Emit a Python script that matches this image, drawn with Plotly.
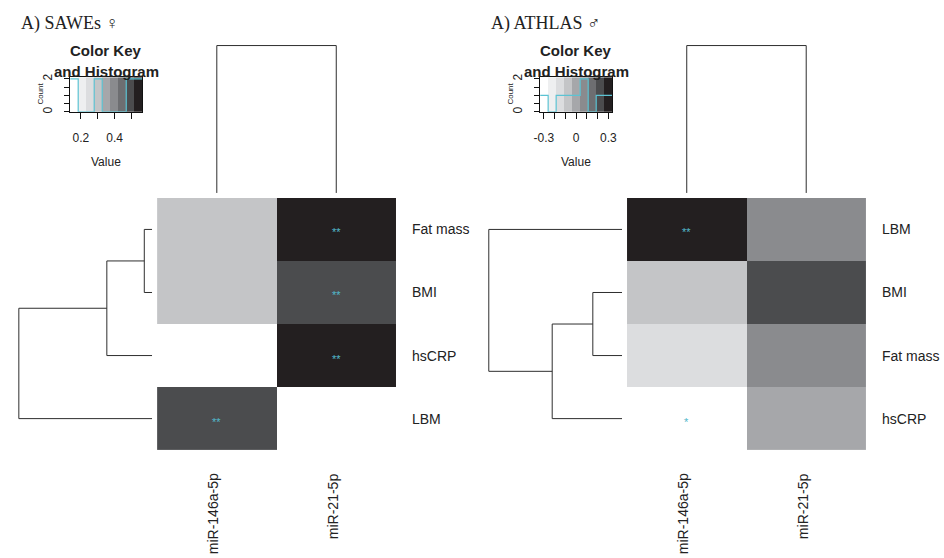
import numpy as np
import plotly.graph_objects as go

W, H = 944, 558

# ---------------- data ----------------
mirnas = ["miR-146a-5p", "miR-21-5p"]

# SAWEs (women): correlation of miRNA with body composition / inflammation
sawes_title = "A) SAWEs \u2640"
sawes_rows = ["Fat mass", "BMI", "hsCRP", "LBM"]
sawes_r = [[0.30, 0.563],
           [0.31, 0.49],
           [0.14, 0.54],
           [0.50, 0.137]]
sawes_sig = [["", "**"],
             ["", "**"],
             ["", "**"],
             ["**", ""]]
# row dendrogram merges: (child a, child b, height); leaves 0..3, new nodes 4, 5, 6
sawes_row_merges = [(0, 1, 0.09), (4, 2, 0.52), (5, 3, 1.53)]
sawes_col_height = 1.0
sawes_key_ticks = [0.2, 0.3, 0.4, 0.5]
sawes_key_labels = ["0.2", "", "0.4", ""]

# ATHLAS (men)
athlas_title = "A) ATHLAS \u2642"
athlas_rows = ["LBM", "BMI", "Fat mass", "hsCRP"]
athlas_r = [[0.335, 0.07],
            [-0.08, 0.22],
            [-0.15, 0.09],
            [-0.29, 0.00]]
athlas_sig = [["**", ""],
              ["", ""],
              ["", ""],
              ["*", ""]]
athlas_row_merges = [(1, 2, 0.18), (4, 3, 0.43), (0, 5, 0.82)]
athlas_col_height = 1.0
athlas_key_ticks = [-0.3, -0.2, -0.1, 0.0, 0.1, 0.2, 0.3]
athlas_key_labels = ["-0.3", "", "", "0", "", "", "0.3"]

greys = ["#FFFFFF", "#EEEFF0", "#DCDDDF", "#C4C5C7", "#A6A7AA",
         "#8A8B8E", "#6D6E71", "#4B4C4E", "#231F20"]

STAR_COL = "#52B8CB"
HIST_COL = "#5CC3D3"
LINE_COL = "#2e2e2e"
SANS = "Liberation Sans, Arial, sans-serif"
SERIF = "Liberation Serif, Times New Roman, serif"

stepped = []
nc = len(greys)
for i, c in enumerate(greys):
    stepped.append([i / nc, c])
    stepped.append([(i + 1) / nc, c])

fig = go.Figure()
annotations = []
axis_counter = [0]


def new_axes(x0, x1, y0, y1, xr, yr):
    """Create an x/y axis pair whose domain is given in pixels."""
    axis_counter[0] += 1
    n = axis_counter[0]
    sx = "" if n == 1 else str(n)
    fig.update_layout(**{
        "xaxis" + sx: dict(domain=[x0 / W, x1 / W], range=xr, anchor="y" + sx,
                           visible=False, fixedrange=True),
        "yaxis" + sx: dict(domain=[1 - y1 / H, 1 - y0 / H], range=yr, anchor="x" + sx,
                           visible=False, fixedrange=True),
    })
    return "x" + sx, "y" + sx, "xaxis" + sx, "yaxis" + sx


def dendro_lines(merges, n_leaves):
    pos = {i: float(i) for i in range(n_leaves)}
    hgt = {i: 0.0 for i in range(n_leaves)}
    hs, ps = [], []
    for k, (a, b, h) in enumerate(merges):
        node = n_leaves + k
        hs += [hgt[a], h, h, hgt[b], None]
        ps += [pos[a], pos[a], pos[b], pos[b], None]
        pos[node] = (pos[a] + pos[b]) / 2
        hgt[node] = h
    return hs, ps


def px(xp):
    return xp / W


def py(yp):
    return 1 - yp / H


def text(x, y, s, size, xanchor="center", yanchor="middle", angle=0, family=SANS, **kw):
    d = dict(x=x, y=y, xref=kw.pop("xref", "paper"), yref=kw.pop("yref", "paper"),
             text=s, showarrow=False, xanchor=xanchor, yanchor=yanchor, textangle=angle,
             font=dict(family=family, size=size, color=kw.pop("color", "#222")))
    d.update(kw)
    annotations.append(d)


def panel(dx, title, rows, r, sig, row_merges, col_h, key_ticks, key_labels, symmetric):
    z = np.array(r, dtype=float)
    nr, ncol = z.shape
    if symmetric:
        m = np.abs(z).max()
        zmin, zmax = -m, m
    else:
        zmin, zmax = z.min(), z.max()
    breaks = np.linspace(zmin, zmax, nc + 1)

    # heatmap body
    hx0, hx1, hy0, hy1 = 152 + dx, 394 + dx, 196, 451
    xa, ya, xn, yn = new_axes(hx0, hx1, hy0, hy1, [-0.5, ncol - 0.5], [nr - 0.5, -0.5])
    fig.add_trace(go.Heatmap(z=z, x=list(range(ncol)), y=list(range(nr)),
                             colorscale=stepped, zmin=zmin, zmax=zmax, showscale=False,
                             hoverinfo="skip", xaxis=xa, yaxis=ya))
    for i in range(nr):
        for j in range(ncol):
            if sig[i][j]:
                text(j, i, sig[i][j], 11, xref=xa, yref=ya, yshift=-3, color=STAR_COL)
    # row labels
    for i, lab in enumerate(rows):
        text(px(hx1 + 14), i, lab, 14, xanchor="left", yref=ya)
    # column labels
    for j, lab in enumerate(mirnas):
        text(j, py(472), lab, 14, yanchor="top", angle=-90, xref=xa, xshift=-3)

    # row dendrogram
    hs, ps = dendro_lines(row_merges, nr)
    root = row_merges[-1][2]
    xa, ya, _, _ = new_axes(10 + dx, 147 + dx, hy0, hy1, [root * 137 / 135, 0], [nr - 0.5, -0.5])
    fig.add_trace(go.Scatter(x=hs, y=ps, mode="lines", line=dict(color=LINE_COL, width=1),
                             hoverinfo="skip", xaxis=xa, yaxis=ya, showlegend=False))

    # column dendrogram
    hs, ps = dendro_lines([(0, 1, col_h)], ncol)
    xa, ya, _, _ = new_axes(hx0, hx1, 40, 191, [-0.5, ncol - 0.5], [0, col_h * 151 / 149])
    fig.add_trace(go.Scatter(x=ps, y=hs, mode="lines", line=dict(color=LINE_COL, width=1),
                             hoverinfo="skip", xaxis=xa, yaxis=ya, showlegend=False))

    # colour key with histogram
    counts, _ = np.histogram(z.ravel(), bins=breaks)
    ymax = counts.max() / 0.95
    kx0, kx1, ky0, ky1 = 64 + dx, 137 + dx, 74, 109
    xa, ya, xn, yn = new_axes(kx0, kx1, ky0, ky1, [zmin, zmax], [0, ymax])
    mids = (breaks[:-1] + breaks[1:]) / 2
    fig.add_trace(go.Heatmap(z=[mids], x=breaks, y=[0, ymax], colorscale=stepped,
                             zmin=zmin, zmax=zmax, showscale=False, hoverinfo="skip",
                             xaxis=xa, yaxis=ya))
    fig.add_trace(go.Scatter(x=breaks, y=np.append(counts, counts[-1]), mode="lines",
                             line=dict(color=HIST_COL, width=1.2, shape="hv"),
                             hoverinfo="skip", xaxis=xa, yaxis=ya, showlegend=False))
    cticks = [0, 0.5, 1, 1.5, 2]
    fig.layout[xn].update(visible=True, showline=True, mirror=True, linecolor="#111",
                          linewidth=1, showgrid=False, zeroline=False, ticks="outside",
                          ticklen=6, tickcolor="#111", tickvals=key_ticks,
                          ticktext=key_labels, ticklabelstandoff=9,
                          tickfont=dict(family=SANS, size=12, color="#222"))
    fig.layout[yn].update(visible=True, showline=True, mirror=True, linecolor="#111",
                          linewidth=1, showgrid=False, zeroline=False, ticks="outside",
                          ticklen=5, tickcolor="#111", tickvals=cticks,
                          ticktext=["0", "", "", "", "2"], tickangle=-90,
                          ticklabelstandoff=7,
                          tickfont=dict(family=SANS, size=12, color="#222"))
    kc = (kx0 + kx1) / 2
    text(px(kc), py(47), "<b>Color Key</b>", 15)
    text(px(kc), py(68), "<b>and Histogram</b>", 15)
    text(px(kc), py(160), "Value", 12)
    text(px(33 + dx), py(91), "Count", 8, angle=-90)
    # panel title
    text(px(12 + dx), py(20), title, 18, xanchor="left", family=SERIF)


panel(0, sawes_title, sawes_rows, sawes_r, sawes_sig, sawes_row_merges,
      sawes_col_height, sawes_key_ticks, sawes_key_labels, symmetric=False)
panel(476, athlas_title, athlas_rows, athlas_r, athlas_sig, athlas_row_merges,
      athlas_col_height, athlas_key_ticks, athlas_key_labels, symmetric=True)

fig.update_layout(width=W, height=H, margin=dict(l=0, r=0, t=0, b=0),
                  paper_bgcolor="white", plot_bgcolor="white", showlegend=False,
                  annotations=annotations)

fig.write_html("out.html", include_plotlyjs=True, config={"displayModeBar": False})
